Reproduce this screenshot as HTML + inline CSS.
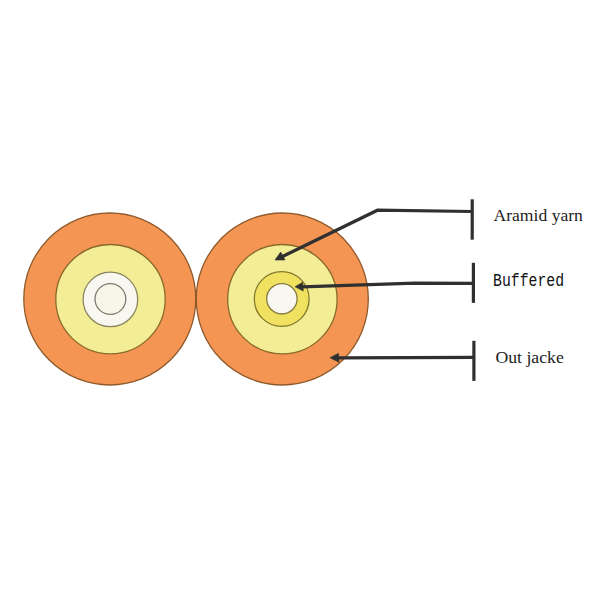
<!DOCTYPE html>
<html>
<head>
<meta charset="utf-8">
<style>
html,body{margin:0;padding:0;background:#fff;}
body{width:600px;height:600px;overflow:hidden;position:relative;font-family:"Liberation Serif",serif;}
svg{position:absolute;left:0;top:0;}
.t{position:absolute;white-space:nowrap;color:#222;line-height:1;}
#t1{left:493.5px;top:207px;font-size:17.6px;}
#t2{left:493px;top:272px;font-size:14.8px;font-family:"Liberation Mono",monospace;transform:scaleY(1.24);transform-origin:0 0;color:#111;}
#t3{left:495.5px;top:349.1px;font-size:17.7px;}
</style>
</head>
<body>
<svg width="600" height="600" viewBox="0 0 600 600">
  <g stroke-width="1.3">
    <circle cx="109.8" cy="299" r="86" fill="#f59553" stroke="#8e5a2c"/>
    <circle cx="110.5" cy="299.2" r="54.7" fill="#f3ed96" stroke="#8a6a2a"/>
    <circle cx="110.4" cy="299.4" r="27.3" fill="#f9f8f0" stroke="#8a8560"/>
    <circle cx="110.4" cy="299" r="15.4" fill="#f8f6e8" stroke="#7b796f"/>
    <circle cx="282.3" cy="299" r="86" fill="#f59553" stroke="#8e5a2c"/>
    <circle cx="282.4" cy="299.2" r="54.7" fill="#f3ed96" stroke="#8a6a2a"/>
    <circle cx="281.7" cy="299" r="27.4" fill="#f0e160" stroke="#857a2c"/>
    <circle cx="281.9" cy="298.8" r="15.2" fill="#f8f8f0" stroke="#857a40"/>
  </g>
  <g stroke="#303030" stroke-width="3.2" fill="none" stroke-linejoin="miter">
    <polyline points="282,256.8 377.5,210.2 472.2,211.5"/>
    <line x1="472.2" y1="199.3" x2="472.2" y2="239.7"/>
    <polyline points="302,286.8 415,283.2 473.4,283.3"/>
    <line x1="473.4" y1="262.8" x2="473.4" y2="302.9"/>
    <line x1="338" y1="357.8" x2="473.9" y2="357.3"/>
    <line x1="473.9" y1="340.8" x2="473.9" y2="380.9"/>
  </g>
  <g fill="#303030" stroke="#303030" stroke-width="0.6" stroke-linejoin="round">
    <polygon points="275,260 280.7,252 285,260"/>
    <polygon points="295,286.8 302.7,282.3 303.3,291"/>
    <polygon points="330,357.8 338.5,353.3 339,362.3"/>
  </g>
</svg>
<div class="t" id="t1">Aramid yarn</div>
<div class="t" id="t2">Buffered</div>
<div class="t" id="t3">Out jacke</div>
</body>
</html>
